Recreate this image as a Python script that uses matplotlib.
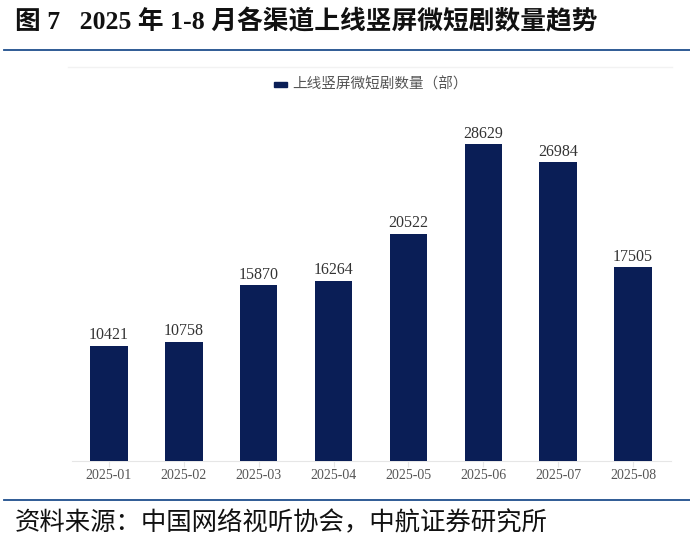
import matplotlib
matplotlib.use("Agg")
import matplotlib.pyplot as plt
from matplotlib.lines import Line2D

months = ["2025-01", "2025-02", "2025-03", "2025-04", "2025-05", "2025-06", "2025-07", "2025-08"]
counts = [10421, 10758, 15870, 16264, 20522, 28629, 26984, 17505]
series_name = "上线竖屏微短剧数量（部）"
title = "图 7   2025 年 1-8 月各渠道上线竖屏微短剧数量趋势"
source = "资料来源：中国网络视听协会，中航证券研究所"

W, H = 690, 547
fig = plt.figure(figsize=(W / 100, H / 100), dpi=100)

def fx(px):
    return px / W

def fy(py):
    return 1 - py / H

bar_color = "#0A1E56"
line_color = "#1F4E8C"

ymax = 32000
ax = fig.add_axes([fx(71.5), fy(461), fx(670.5) - fx(71.5), fy(107) - fy(461)])
x = list(range(len(months)))
ax.bar(x, counts, width=0.5, color=bar_color, zorder=3)
ax.set_xlim(-0.5, len(months) - 0.5)
ax.set_ylim(0, ymax)
ax.set_yticks([])
for s in ["top", "right", "left"]:
    ax.spines[s].set_visible(False)
ax.spines["bottom"].set_color("#E6E6E6")
ax.spines["bottom"].set_linewidth(0.8)
ax.set_xticks(x)
ax.set_xticklabels(months, family=["Liberation Serif"], fontsize=10, color="#555555")
ax.tick_params(axis="x", length=4, color="#E6E6E6", pad=2)
for xi, v in zip(x, counts):
    ax.annotate(f"{v}", (xi, v), xytext=(0, 2), textcoords="offset points",
                ha="center", va="bottom", fontsize=11.5,
                family=["Liberation Serif"], color="#333333")

# title
fig.text(fx(15), fy(22), title, ha="left", va="center", fontsize=18.5, fontweight="bold",
         family=["Liberation Serif", "Noto Sans CJK SC"], color="#111111")
fig.add_artist(Line2D([fx(4), fx(690)], [fy(50), fy(50)], color=line_color, lw=1.3))
# faint top line of plot area
fig.add_artist(Line2D([fx(68), fx(672)], [fy(67), fy(67)], color="#F2F2F2", lw=1.0))

# legend
fig.patches.append(plt.Rectangle((fx(274), fy(87)), 13 / W, 5 / H,
                                 transform=fig.transFigure, color=bar_color))
fig.text(fx(292), fy(84), series_name, ha="left", va="center", fontsize=10.5,
         family=["Noto Sans CJK SC"], color="#555555")

# bottom
fig.add_artist(Line2D([fx(4), fx(690)], [fy(500), fy(500)], color=line_color, lw=1.3))
fig.text(fx(15), fy(523), source, ha="left", va="center", fontsize=18.3,
         family=["Noto Sans CJK SC"], color="#111111")

fig.savefig("out.png", dpi=100)
